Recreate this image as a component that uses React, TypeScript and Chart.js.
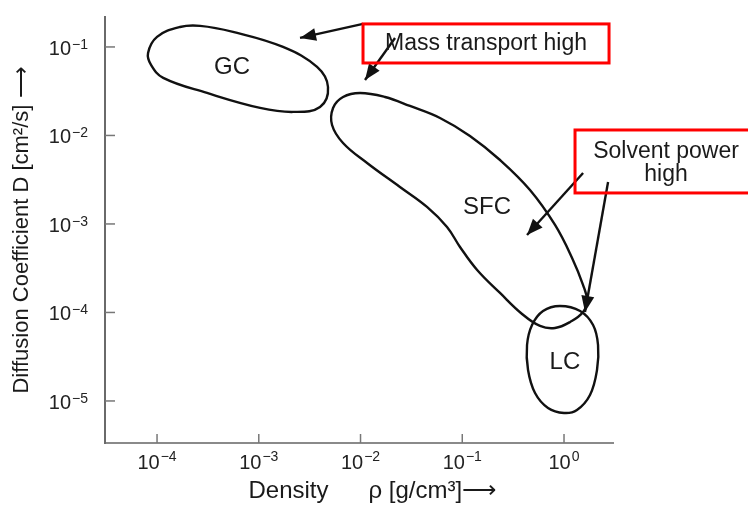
import React, { useEffect, useRef } from 'react';
import { Chart, registerables } from 'chart.js';

Chart.register(...registerables);

// ---- axes ----
const xTicks = [1e-4, 1e-3, 1e-2, 1e-1, 1];
const xTickExponents = ['−4', '−3', '−2', '−1', '0'];
const yTicks = [1e-5, 1e-4, 1e-3, 1e-2, 1e-1];
const yTickExponents = ['−5', '−4', '−3', '−2', '−1'];
const tickBase = '10';
const xMin = 3.08e-5;
const xMax = 3.03;
const yMin = 3.35e-6;
const yMax = 0.218;

// ---- region outlines (density g/cm3, diffusion cm2/s) ----
const gcDensity = [8.16e-5, 1.0e-4, 1.68e-4, 2.65e-4, 5.58e-4, 1.73e-3, 3.74e-3, 4.79e-3, 4.0e-3, 2.17e-3, 1.03e-3, 3.1e-4, 1.15e-4, 8.73e-5];
const gcDiffusion = [0.0855, 0.13, 0.168, 0.173, 0.148, 0.1, 0.0594, 0.0353, 0.021, 0.01845, 0.0205, 0.0302, 0.0447, 0.0627];

const sfcDensity = [9.89e-3, 1.74e-2, 3.06e-2, 6.04e-2, 0.119, 0.235, 0.463, 0.816, 1.2, 1.54, 1.68, 1.54, 1.15, 0.816, 0.581, 0.387, 0.235, 0.14, 0.095, 0.0708, 0.045, 0.0244, 0.0116, 6.73e-3, 5.25e-3, 5.37e-3, 6.73e-3];
const sfcDiffusion = [0.0302, 0.0272, 0.02154, 0.01576, 9.87e-3, 5.28e-3, 2.42e-3, 9.74e-4, 4.13e-4, 2.04e-4, 1.38e-4, 1.01e-4, 7.81e-5, 6.68e-5, 7.04e-5, 9.62e-5, 1.66e-4, 3.02e-4, 5.5e-4, 9.25e-4, 1.56e-3, 2.62e-3, 4.89e-3, 8.23e-3, 0.01314, 0.02045, 0.0272];

const lcDensity = [0.913, 1.44, 1.93, 2.16, 2.11, 1.8, 1.34, 1.0, 0.696, 0.519, 0.443, 0.433, 0.485, 0.622];
const lcDiffusion = [1.184e-4, 1.04e-4, 7.22e-5, 4.29e-5, 2.24e-5, 1.169e-5, 7.91e-6, 7.32e-6, 8.34e-6, 1.231e-5, 2.24e-5, 4.29e-5, 7.22e-5, 1.04e-4];

const regionNames = ['GC', 'SFC', 'LC'];
const regionLabelDensity = [5.46e-4, 0.175, 1.02];
const regionLabelDiffusion = [0.0594, 1.556e-3, 2.76e-5];

// ---- arrows ----
const arrowStartDensity = [1.058e-2, 2.183e-2, 1.54, 2.71];
const arrowStartDiffusion = [0.182, 0.1264, 3.77e-3, 2.98e-3];
const arrowEndDensity = [2.543e-3, 1.107e-2, 0.433, 1.608];
const arrowEndDiffusion = [0.1264, 0.0424, 7.51e-4, 1.013e-4];

// ---- callouts ----
const calloutLines = [['Mass transport high'], ['Solvent power', 'high']];
const calloutLeft = [1.058e-2, 1.283];
const calloutRight = [2.77, 84.4];
const calloutTop = [0.182, 0.01153];
const calloutBottom = [0.0659, 2.24e-3];
const calloutTextDensity = [0.171, 10.06];
const calloutTextDiffusion = [0.108, 6.51e-3];

const FONT = '"Liberation Sans", Arial, sans-serif';

const toPts = (xs: number[], ys: number[]) => xs.map((x, i) => ({ x, y: ys[i] }));

export default function App() {
  const ref = useRef<HTMLCanvasElement | null>(null);

  useEffect(() => {
    document.body.style.margin = '0';
    const canvas = ref.current;
    if (!canvas) return;

    const closeLoop = {
      id: 'closeLoop',
      afterDatasetsUpdate(chart: any) {
        chart.data.datasets.forEach((ds: any, i: number) => {
          if (ds.closedShape) {
            const line: any = chart.getDatasetMeta(i).dataset;
            if (line) {
              line._loop = true;
              line._fullLoop = true;
              delete line._segments;
              line._path = undefined;
              line._pointsUpdated = false;
            }
          }
        });
      },
    };

    const annotations = {
      id: 'annotations',
      afterDraw(chart: any) {
        const ctx = chart.ctx as CanvasRenderingContext2D;
        const xs = chart.scales.x;
        const ys = chart.scales.y;
        const area = chart.chartArea;
        const px = (v: number) => xs.getPixelForValue(v);
        const py = (v: number) => ys.getPixelForValue(v);
        ctx.save();
        // inward tick marks
        ctx.strokeStyle = '#777';
        ctx.lineWidth = 1.5;
        xTicks.forEach((v) => {
          const x = px(v);
          ctx.beginPath();
          ctx.moveTo(x, area.bottom);
          ctx.lineTo(x, area.bottom - 9);
          ctx.stroke();
        });
        yTicks.forEach((v) => {
          const y = py(v);
          ctx.beginPath();
          ctx.moveTo(area.left, y);
          ctx.lineTo(area.left + 10, y);
          ctx.stroke();
        });
        // tick labels: 10 with raised exponent
        const baseFont = `20px ${FONT}`;
        const expFont = `14px ${FONT}`;
        ctx.fillStyle = '#222';
        ctx.textBaseline = 'alphabetic';
        ctx.textAlign = 'left';
        const measure = (exp: string) => {
          ctx.font = baseFont;
          const wb = ctx.measureText(tickBase).width;
          ctx.font = expFont;
          const we = ctx.measureText(exp).width;
          return { wb, we };
        };
        const drawPow = (exp: string, x0: number, baseY: number, expY: number, wb: number) => {
          ctx.font = baseFont;
          ctx.fillText(tickBase, x0, baseY);
          ctx.font = expFont;
          ctx.fillText(exp, x0 + wb + 1, expY);
        };
        xTicks.forEach((v, i) => {
          const exp = xTickExponents[i];
          const { wb, we } = measure(exp);
          const x0 = px(v) - (wb + we + 1) / 2;
          drawPow(exp, x0, area.bottom + 26, area.bottom + 18, wb);
        });
        yTicks.forEach((v, i) => {
          const exp = yTickExponents[i];
          const { wb, we } = measure(exp);
          const x0 = area.left - 17 - (wb + we + 1);
          const y = py(v);
          drawPow(exp, x0, y + 8, y + 2, wb);
        });
        // arrow heads
        ctx.fillStyle = '#111';
        arrowEndDensity.forEach((ex, i) => {
          const tx = px(ex);
          const ty = py(arrowEndDiffusion[i]);
          const sx = px(arrowStartDensity[i]);
          const sy = py(arrowStartDiffusion[i]);
          const a = Math.atan2(ty - sy, tx - sx);
          const L = 16;
          const W = 6.5;
          const bx = tx - L * Math.cos(a);
          const by = ty - L * Math.sin(a);
          ctx.beginPath();
          ctx.moveTo(tx, ty);
          ctx.lineTo(bx + W * Math.sin(a), by - W * Math.cos(a));
          ctx.lineTo(bx - W * Math.sin(a), by + W * Math.cos(a));
          ctx.closePath();
          ctx.fill();
        });
        // region labels
        ctx.font = `24px ${FONT}`;
        ctx.textAlign = 'center';
        ctx.textBaseline = 'middle';
        ctx.fillStyle = '#1a1a1a';
        regionNames.forEach((n, i) => {
          ctx.fillText(n, px(regionLabelDensity[i]), py(regionLabelDiffusion[i]));
        });
        // callout boxes
        ctx.strokeStyle = '#ff0000';
        ctx.lineWidth = 3;
        calloutLines.forEach((lines, i) => {
          const l = px(calloutLeft[i]);
          const r = px(calloutRight[i]);
          const t = py(calloutTop[i]);
          const b = py(calloutBottom[i]);
          ctx.strokeRect(l, t, r - l, b - t);
          ctx.font = `23px ${FONT}`;
          ctx.fillStyle = '#1a1a1a';
          const cx = px(calloutTextDensity[i]);
          const cy = py(calloutTextDiffusion[i]);
          lines.forEach((txt, k) => ctx.fillText(txt, cx, cy + k * 23));
        });
        ctx.restore();
      },
    };

    const shape = (label: string, xs: number[], ys: number[]) => ({
      label,
      data: toPts(xs, ys),
      closedShape: true,
      borderColor: '#111',
      borderWidth: 2.4,
      pointRadius: 0,
      tension: 0.4,
      fill: false,
    });

    const arrowSets = arrowStartDensity.map((sx, i) => ({
      label: `arrow${i}`,
      data: [
        { x: sx, y: arrowStartDiffusion[i] },
        { x: arrowEndDensity[i], y: arrowEndDiffusion[i] },
      ],
      borderColor: '#111',
      borderWidth: 2.4,
      pointRadius: 0,
      tension: 0,
      fill: false,
    }));

    const chart = new Chart(canvas, {
      type: 'line',
      data: {
        datasets: [
          shape('GC', gcDensity, gcDiffusion),
          shape('SFC', sfcDensity, sfcDiffusion),
          shape('LC', lcDensity, lcDiffusion),
          ...arrowSets,
        ] as any,
      },
      options: {
        animation: false,
        responsive: false,
        layout: { padding: { left: 0, right: 135, top: 17, bottom: 0 } },
        elements: { line: { capBezierPoints: false } as any },
        plugins: { legend: { display: false }, tooltip: { enabled: false } },
        scales: {
          x: {
            type: 'logarithmic',
            min: xMin,
            max: xMax,
            afterBuildTicks: (s: any) => {
              s.ticks = xTicks.map((v) => ({ value: v }));
            },
            afterFit: (s: any) => {
              s.height = 62;
            },
            grid: { display: false, drawTicks: false },
            border: { display: true, color: '#8a8a8a', width: 2 },
            ticks: { display: false, autoSkip: false, maxRotation: 0 },
            title: {
              display: true,
              text: '    Density      ρ [g/cm³]⟶',
              color: '#1a1a1a',
              font: { family: FONT, size: 24, lineHeight: 1.1 },
              padding: { top: 0, bottom: 0 },
            },
          },
          y: {
            type: 'logarithmic',
            min: yMin,
            max: yMax,
            afterBuildTicks: (s: any) => {
              s.ticks = yTicks.map((v) => ({ value: v }));
            },
            afterFit: (s: any) => {
              s.width = 105;
            },
            grid: { display: false, drawTicks: false },
            border: { display: true, color: '#6a6a6a', width: 2 },
            ticks: { display: false, autoSkip: false },
            title: {
              display: true,
              text: 'Diffusion Coefficient D [cm²/s] ⟶',
              color: '#1a1a1a',
              font: { family: FONT, size: 22 },
              padding: { top: 9, bottom: 0 },
            },
          },
        },
      } as any,
      plugins: [closeLoop, annotations],
    });

    return () => chart.destroy();
  }, []);

  return (
    <div style={{ position: 'absolute', left: 0, top: 0, width: 748, height: 505, background: '#fff' }}>
      <canvas ref={ref} width={748} height={505} style={{ display: 'block' }} />
    </div>
  );
}
